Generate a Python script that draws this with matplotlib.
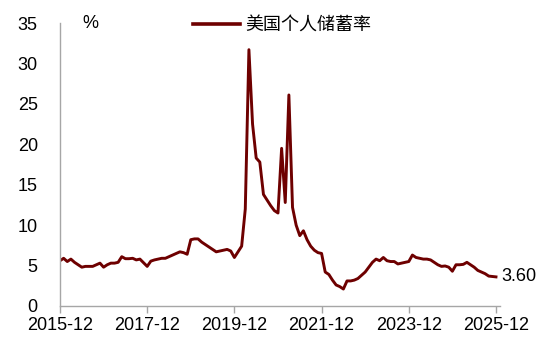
import matplotlib
matplotlib.use("Agg")
import matplotlib.pyplot as plt
import numpy as np

# monthly saving rate, 2015-12 .. 2025-12
start_year, start_month = 2015, 12
saving_rate = [
    5.6, 5.9, 5.5, 5.8, 5.4, 5.1, 4.8, 4.9, 4.9, 4.9, 5.1, 5.3,
    4.8, 5.1, 5.3, 5.3, 5.4, 6.1, 5.85, 5.85, 5.9, 5.7, 5.8, 5.35,
    4.9, 5.55, 5.7, 5.8, 5.9, 5.9, 6.1, 6.3, 6.5, 6.7, 6.6, 6.4,
    8.2, 8.3, 8.3, 7.9, 7.6, 7.3, 7.0, 6.7, 6.8, 6.9, 7.0, 6.8,
    6.0, 6.7, 7.4, 12.0, 31.7, 22.5, 18.3, 17.8, 13.8, 13.1, 12.4, 11.8,
    11.5, 19.5, 12.8, 26.1, 12.2, 10.0, 8.7, 9.3, 8.2, 7.4, 6.9, 6.6,
    6.5, 4.2, 3.9, 3.2, 2.6, 2.4, 2.1, 3.1, 3.1, 3.2, 3.4, 3.8,
    4.2, 4.8, 5.4, 5.8, 5.6, 6.0, 5.6, 5.5, 5.5, 5.2, 5.3, 5.4,
    5.5, 6.3, 6.0, 5.9, 5.8, 5.8, 5.7, 5.4, 5.1, 4.9, 4.95, 4.8,
    4.3, 5.1, 5.1, 5.15, 5.4, 5.1, 4.8, 4.4, 4.2, 4.0, 3.7, 3.65,
    3.6,
]
tick_labels = ["2015-12", "2017-12", "2019-12", "2021-12", "2023-12", "2025-12"]
y_ticks = [0, 5, 10, 15, 20, 25, 30, 35]
series_name = "美国个人储蓄率"
last_label = "3.60"

plt.rcParams['font.family'] = ['Liberation Sans', 'Noto Sans CJK SC', 'DejaVu Sans']

line_color = "#6E0000"
axis_color = "#A6A6A6"

fig = plt.figure(figsize=(5.5, 3.44), dpi=100)
ax = fig.add_axes([60 / 550, 38 / 344, 439.6 / 550, 283 / 344])

x = np.arange(len(saving_rate))
ax.plot(x, saving_rate, color=line_color, lw=2.1, label=series_name,
        solid_joinstyle="round")

ax.set_xlim(0, 121)
ax.set_ylim(0, 35)
ax.set_xticks(np.arange(0, 121, 24))
ax.set_xticklabels(tick_labels, fontsize=13)
ax.set_yticks(y_ticks)
ax.set_yticklabels([str(v) for v in y_ticks], fontsize=13)

for s in ["top", "right"]:
    ax.spines[s].set_visible(False)
for s in ["left", "bottom"]:
    ax.spines[s].set_color(axis_color)
    ax.spines[s].set_linewidth(1.0)

ax.tick_params(axis="y", length=0, pad=16)
ax.tick_params(axis="x", length=5, width=1.0, color=axis_color, pad=3)

ax.text(0.052, 1.0, "%", transform=ax.transAxes, fontsize=13,
        ha="left", va="center")

ax.annotate(last_label, xy=(x[-1], saving_rate[-1]), xytext=(4, 0),
            textcoords="offset points", fontsize=13, ha="left", va="center",
            annotation_clip=False)

leg = ax.legend(loc="center", bbox_to_anchor=(0.505, 0.993), frameon=False,
                handlelength=2.6, handletextpad=0.3, borderpad=0,
                prop={"family": ["Noto Sans CJK SC", "DejaVu Sans"], "size": 13})
for h in leg.get_lines():
    h.set_linewidth(2.6)

fig.savefig("out.png", dpi=100)
